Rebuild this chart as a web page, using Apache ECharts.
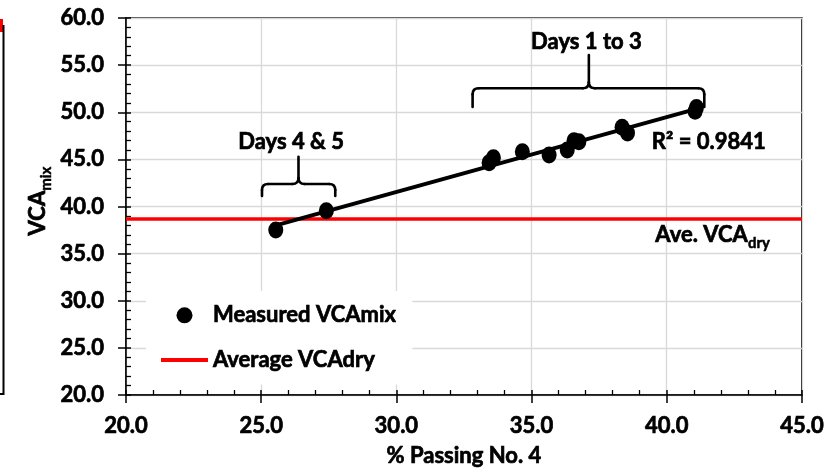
<!DOCTYPE html>
<html><head><meta charset="utf-8">
<script src="https://cdn.jsdelivr.net/npm/echarts@6/dist/echarts.min.js"></script>
<style>html,body{margin:0;padding:0;background:#fff}#c{width:827px;height:476px}</style>
</head><body><div id="c"></div>
<script>
// ---- data ----
const passingNo4 = [25.54, 27.41, 33.43, 33.59, 34.66, 35.65, 36.32, 36.57, 36.75, 38.35, 38.55, 41.05, 41.10];
const vcaMix     = [37.51, 39.55, 44.65, 45.18, 45.81, 45.46, 46.00, 46.98, 46.88, 48.42, 47.80, 50.10, 50.50];
const aveVcaDry = 38.67;
const xRange = [20, 45];
const yRange = [20, 60];
const seriesNames = ['Measured VCAmix', 'Average VCAdry'];
const r2Text = 'R\u00b2 = 0.9841';
const days13Text = 'Days 1 to 3';
const days45Text = 'Days 4 & 5';

// ---- build ----
const FONT = 'Lato';
const SW = 0.7; // extra stroke to match the heavy bold of the original
const scatterData = passingNo4.map((x, i) => [x, vcaMix[i]]);
// least-squares trendline (as in the original chart)
const n = passingNo4.length;
const mx = passingNo4.reduce((a, b) => a + b, 0) / n;
const my = vcaMix.reduce((a, b) => a + b, 0) / n;
let sxy = 0, sxx = 0;
for (let i = 0; i < n; i++) { sxy += (passingNo4[i] - mx) * (vcaMix[i] - my); sxx += (passingNo4[i] - mx) ** 2; }
const slope = sxy / sxx, icpt = my - slope * mx;
const xMin = Math.min(...passingNo4), xMax = Math.max(...passingNo4);
const trendData = [[xMin, icpt + slope * xMin], [xMax, icpt + slope * xMax]];

const lbl = { fontFamily: FONT, fontWeight: 'bold', fontSize: 22, color: '#000', textBorderColor: '#000', textBorderWidth: SW };
const chart = echarts.init(document.getElementById('c'), null, { renderer: 'canvas' });

function mainAxis(range, isX) {
  return {
    type: 'value', min: range[0], max: range[1], interval: 5,
    position: isX ? 'bottom' : 'left',
    axisLine: { show: true, onZero: false, lineStyle: { color: '#000', width: 1.5 } },
    axisTick: { show: true, inside: false, length: 8, lineStyle: { color: '#000', width: 1.5 } },
    axisLabel: Object.assign({ formatter: v => v.toFixed(1), margin: isX ? 20 : 22 }, lbl),
    splitLine: { show: true, lineStyle: { color: '#d9d9d9', width: 1.3 } },
    minorTick: { show: false }
  };
}
function tickAxis(range, isX) {
  return {
    type: 'value', min: range[0], max: range[1], interval: 5,
    position: isX ? 'bottom' : 'left',
    axisLine: { show: false, onZero: false },
    axisTick: { show: true, inside: true, length: 5, lineStyle: { color: '#000', width: 1.5 } },
    minorTick: { show: true, splitNumber: 5, length: 5, lineStyle: { color: '#000', width: 1.3 } },
    axisLabel: { show: false },
    splitLine: { show: false }
  };
}

chart.setOption({
  animation: false,
  backgroundColor: '#fff',
  grid: { left: 126, top: 18, right: 23.5, bottom: 81, show: true, borderColor: '#000', borderWidth: 1.5, containLabel: false },
  xAxis: [
    Object.assign(mainAxis(xRange, true), { name: '% Passing No. 4', nameLocation: 'middle', nameGap: 50, nameTextStyle: lbl }),
    tickAxis(xRange, true)
  ],
  yAxis: [mainAxis(yRange, false), tickAxis(yRange, false)],
  legend: {
    orient: 'vertical', left: 146, top: 291, padding: [13, 16, 13, 15], itemGap: 22,
    itemWidth: 47, itemHeight: 16, backgroundColor: '#fff',
    textStyle: { fontFamily: FONT, fontWeight: 'bold', fontSize: 22, color: '#000', textBorderColor: '#000', textBorderWidth: SW },
    data: [
      { name: seriesNames[0], icon: 'circle' },
      { name: seriesNames[1], icon: 'path://M0,0H47V4H0Z' }
    ]
  },
  series: [
    {
      name: seriesNames[1], type: 'line', data: [[xRange[0], aveVcaDry], [xRange[1], aveVcaDry]],
      symbol: 'none', z: 2, color: '#ff0000',
      lineStyle: { color: '#ff0000', width: 3.5 }, itemStyle: { color: '#ff0000' }
    },
    {
      name: 'trend', type: 'line', data: trendData, symbol: 'none', z: 3,
      lineStyle: { color: '#000', width: 4 }, itemStyle: { color: '#000' }
    },
    {
      name: seriesNames[0], type: 'scatter', data: scatterData, symbol: 'circle', symbolSize: [15, 17], z: 4,
      itemStyle: { color: '#000', opacity: 1 }
    }
  ]
});

// ---- annotations positioned through the axes ----
const P = (x, y) => chart.convertToPixel({ xAxisIndex: 0, yAxisIndex: 0 }, [x, y]);
function brace(xl, xr, xm, yBar, yHook, yStem) {
  const L = P(xl, yBar), R = P(xr, yBar), M = P(xm, yBar);
  const yb = L[1], yh = P(xl, yHook)[1], ys = P(xm, yStem)[1];
  const r = 6, s = { stroke: '#000', lineWidth: 2.6, fill: null, lineCap: 'round' };
  const els = [];
  const line = (x1, y1, x2, y2) => els.push({ type: 'line', shape: { x1, y1, x2, y2 }, style: s, z: 10 });
  const curve = (x1, y1, cx, cy, x2, y2) => els.push({ type: 'bezierCurve', shape: { x1, y1, x2, y2, cpx1: cx, cpy1: cy }, style: s, z: 10 });
  line(L[0], yh, L[0], yb + r);
  curve(L[0], yb + r, L[0], yb, L[0] + r, yb);
  line(L[0] + r, yb, M[0] - r, yb);
  curve(M[0] - r, yb, M[0], yb, M[0], yb - r);
  curve(M[0], yb - r, M[0], yb, M[0] + r, yb);
  line(M[0] + r, yb, R[0] - r, yb);
  curve(R[0] - r, yb, R[0], yb, R[0], yb + r);
  line(R[0], yb + r, R[0], yh);
  line(M[0], yb - r, M[0], ys);
  return els;
}
const txtStyle = { fontFamily: FONT, fontWeight: 'bold', fontSize: 22, fill: '#000', stroke: '#000', lineWidth: SW };
function text(x, y, str, align) {
  const p = P(x, y);
  return { type: 'text', x: p[0], y: p[1], z: 10,
    style: Object.assign({ text: str, align: align, verticalAlign: 'middle' }, txtStyle) };
}
const richA = { fontFamily: FONT, fontWeight: 'bold', fontSize: 22, fill: '#000', stroke: '#000', lineWidth: SW, lineHeight: 26, verticalAlign: 'top' };
const richB = { fontFamily: FONT, fontWeight: 'bold', fontSize: 15, fill: '#000', stroke: '#000', lineWidth: SW * 0.7, lineHeight: 18, padding: [12, 0, 0, 0], verticalAlign: 'top' };
const graphics = []
  .concat(brace(32.82, 41.39, 37.12, 52.54, 50.56, 56.07))
  .concat(brace(25.03, 27.74, 26.38, 42.39, 41.11, 45.28))
  .concat([
    text(37.03, 57.49, days13Text, 'center'),
    text(26.11, 46.88, days45Text, 'center'),
    text(39.45, 46.81, r2Text, 'left'),
    (function () {
      const p = P(39.58, 36.87);
      return { type: 'text', x: p[0], y: p[1] - 12, z: 10,
        style: { text: '{a|Ave. VCA}{b|dry}', align: 'left', verticalAlign: 'top', rich: { a: richA, b: richB } } };
    })(),
    { type: 'text', x: 40, y: 201, rotation: Math.PI / 2, z: 10,
      style: { text: '{a|VCA}{b|mix}', align: 'center', verticalAlign: 'middle', rich: { a: richA, b: richB } } },
    // edge of neighbouring panel visible at the far left of the reference
    { type: 'rect', shape: { x: 0, y: 19, width: 3, height: 13 }, style: { fill: '#ff0000' }, z: 10 },
    { type: 'polyline', shape: { points: [[3.5, 25], [3.5, 394], [0, 394]] }, style: { stroke: '#000', lineWidth: 2, fill: null }, z: 10 }
  ]);
chart.setOption({ graphic: graphics });
</script>
</body></html>
